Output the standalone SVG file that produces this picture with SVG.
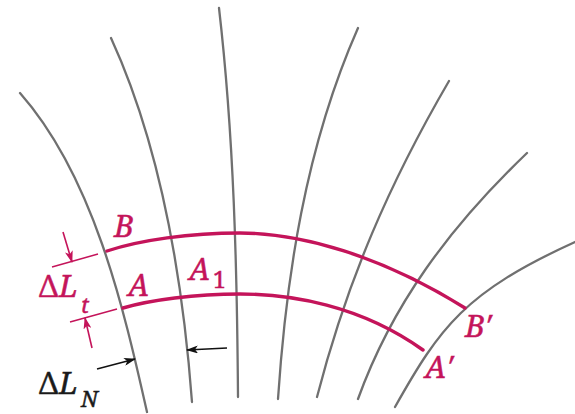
<svg xmlns="http://www.w3.org/2000/svg" width="575" height="414" viewBox="0 0 575 414">
<style>
.fl{fill:none;stroke:#707070;stroke-width:2.3;stroke-linecap:round}
.tube{fill:none;stroke:#c4145a;stroke-width:3.4;stroke-linecap:round}
.tick{fill:none;stroke:#c4145a;stroke-width:1.5}
.ar{fill:none;stroke:#c4145a;stroke-width:1.6}
.ak{fill:none;stroke:#111;stroke-width:1.6}
text{font-family:'Noto Serif','Liberation Serif',serif;font-size:30px;font-style:italic;fill:#c4145a;stroke:#c4145a;stroke-width:0.5}
.up{font-style:normal}
.blk{fill:#1a1a1a;stroke:#1a1a1a}
</style>
<defs>
<marker id="hm" viewBox="0 0 12 8" refX="11" refY="4" markerWidth="13" markerHeight="8" markerUnits="userSpaceOnUse" orient="auto"><path d="M0,0 L12,4 L0,8 L3,4z" fill="#c4145a"/></marker>
<marker id="hk" viewBox="0 0 12 8" refX="11" refY="4" markerWidth="13" markerHeight="8" markerUnits="userSpaceOnUse" orient="auto"><path d="M0,0 L12,4 L0,8 L3,4z" fill="#111"/></marker>
</defs>
<g id="field-lines">
<path class="fl" d="M20,93 C93,176 123,305 147,412"/>
<path class="fl" d="M111,38 C161,147 183,282 192,402"/>
<path class="fl" d="M219,8 C234,138 237,267 238,397"/>
<path class="fl" d="M358,28 C305,148 286,279 278,399"/>
<path class="fl" d="M449,81 C389,184 347,281 317,397"/>
<path class="fl" d="M527,153 C448,229 392,305 358,399"/>
<path class="fl" d="M575,242 C465,292 440,327 395,407"/>
</g>
<g id="flux-tube">
<path class="tube" d="M107,251 C140,240 190,233 240,233 C300,233 380,255 465,308"/>
<path class="tube" d="M123,308 C150,300 195,294 240,294 C290,294 360,305 423,350"/>
</g>
<g id="connectors">
<line class="tick" x1="52" y1="267" x2="98" y2="254"/>
<line class="tick" x1="70" y1="322" x2="117" y2="309"/>
<line class="ar" x1="63" y1="232" x2="72" y2="262" marker-end="url(#hm)"/>
<line class="ar" x1="92" y1="348" x2="85" y2="318" marker-end="url(#hm)"/>
<line class="ak" x1="97" y1="369" x2="135" y2="359" marker-end="url(#hk)"/>
<line class="ak" x1="227" y1="348" x2="187" y2="350" marker-end="url(#hk)"/>
</g>
<g id="labels">
<text x="114" y="237" font-size="30">B</text>
<text x="128" y="296" font-size="28">A</text>
<text x="189" y="280" font-size="29">A<tspan class="up" font-size="23" x="213" y="288">1</tspan></text>
<text x="465" y="337" font-size="27">B′</text>
<text x="425" y="378" font-size="28">A′</text>
<text x="39" y="297" font-size="30"><tspan class="up">Δ</tspan><tspan x="59">L</tspan><tspan x="81" y="313" font-size="22">t</tspan></text>
<text class="blk" x="39" y="394" font-size="30"><tspan class="up">Δ</tspan><tspan x="59">L</tspan><tspan x="81" y="407" font-size="22">N</tspan></text>
</g>
</svg>
